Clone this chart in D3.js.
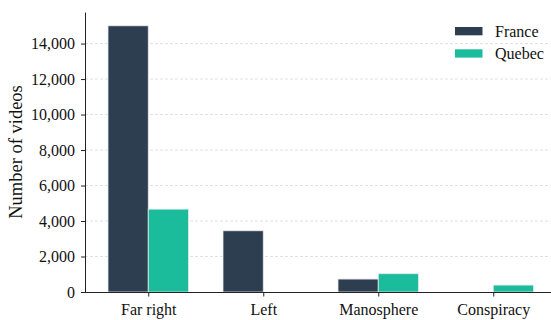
<!DOCTYPE html>
<html>
<head>
<meta charset="utf-8">
<script src="https://cdn.jsdelivr.net/npm/d3@7"></script>
<style>
  html, body { margin: 0; padding: 0; background: #fff; }
  svg { display: block; font-family: "Liberation Serif", "DejaVu Serif", serif; }
</style>
</head>
<body>
<svg id="chart" width="551" height="320"></svg>
<script>
// Video counts per community type, by country
const categories = ["Far right", "Left", "Manosphere", "Conspiracy"];
const series = ["France", "Quebec"];
const franceValues = [15000, 3450, 730, 0];
const quebecValues = [4670, 0, 1030, 390];
const yTicks = [0, 2000, 4000, 6000, 8000, 10000, 12000, 14000];
const colors = ["#2c3e50", "#1abc9c"];
const yLabel = "Number of videos";

const seriesValues = [franceValues, quebecValues];
const svg = d3.select("#chart");

const plotLeft = 85, plotBottom = 292, plotTop = 12.5;
const barWidth = 0.35;

// Category positions on a continuous axis (0..3), with padding on both sides
const x = d3.scaleLinear().domain([-0.55, 3.55]).range([plotLeft, plotLeft + 4.1 * 115]);
const y = d3.scaleLinear().domain([0, 15750]).range([plotBottom, plotTop]);

// Horizontal dashed grid
svg.append("g")
  .selectAll("line")
  .data(yTicks.slice(1))
  .join("line")
  .attr("x1", plotLeft).attr("x2", 551)
  .attr("y1", d => y(d)).attr("y2", d => y(d))
  .attr("stroke", "#d9d9d9")
  .attr("stroke-width", 0.8)
  .attr("stroke-dasharray", "3,2");

// Bars
series.forEach((name, si) => {
  const offset = si === 0 ? -barWidth : 0;
  svg.append("g")
    .selectAll("rect")
    .data(seriesValues[si])
    .join("rect")
    .attr("x", (d, i) => x(i + offset))
    .attr("width", x(barWidth) - x(0))
    .attr("y", d => y(d))
    .attr("height", d => y(0) - y(d))
    .attr("fill", colors[si])
    .attr("stroke", "#e6e9ec")
    .attr("stroke-width", 0.8);
});

// Y axis
const yAxis = d3.axisLeft(y)
  .tickValues(yTicks)
  .tickFormat(d3.format(","))
  .tickSize(4)
  .tickPadding(6);
const gy = svg.append("g").attr("transform", `translate(${plotLeft},0)`).call(yAxis);
gy.select(".domain").attr("d", `M0.5,${plotTop}V${plotBottom}`).attr("stroke", "#222").attr("stroke-width", 1);
gy.selectAll(".tick line").attr("stroke", "#222").attr("x1", 0.5);
gy.selectAll(".tick text")
  .attr("font-family", "Liberation Serif, serif")
  .attr("font-size", 16)
  .attr("fill", "#111");

// X axis
const xAxis = d3.axisBottom(x)
  .tickValues(d3.range(categories.length))
  .tickFormat(i => categories[i])
  .tickSize(4)
  .tickPadding(7);
const gx = svg.append("g").attr("transform", `translate(0,${plotBottom + 0.5})`).call(xAxis);
gx.select(".domain").attr("d", `M${plotLeft},0H${x(3.55)}`).attr("stroke", "#222").attr("stroke-width", 1);
gx.selectAll(".tick line").attr("stroke", "#222");
gx.selectAll(".tick text")
  .attr("font-family", "Liberation Serif, serif")
  .attr("font-size", 16)
  .attr("fill", "#111");

// Y axis title
svg.append("text")
  .attr("transform", `translate(22,152) rotate(-90)`)
  .attr("text-anchor", "middle")
  .attr("font-size", 18.5)
  .attr("fill", "#111")
  .text(yLabel);

// Legend
const legend = svg.append("g").attr("transform", "translate(455,27)");
series.forEach((name, si) => {
  const g = legend.append("g").attr("transform", `translate(0,${si * 22.3})`);
  g.append("rect").attr("width", 27.5).attr("height", 8.3).attr("fill", colors[si]);
  g.append("text")
    .attr("x", 40).attr("y", 9.5)
    .attr("font-size", 16)
    .attr("fill", "#111")
    .text(name);
});
</script>
</body>
</html>
